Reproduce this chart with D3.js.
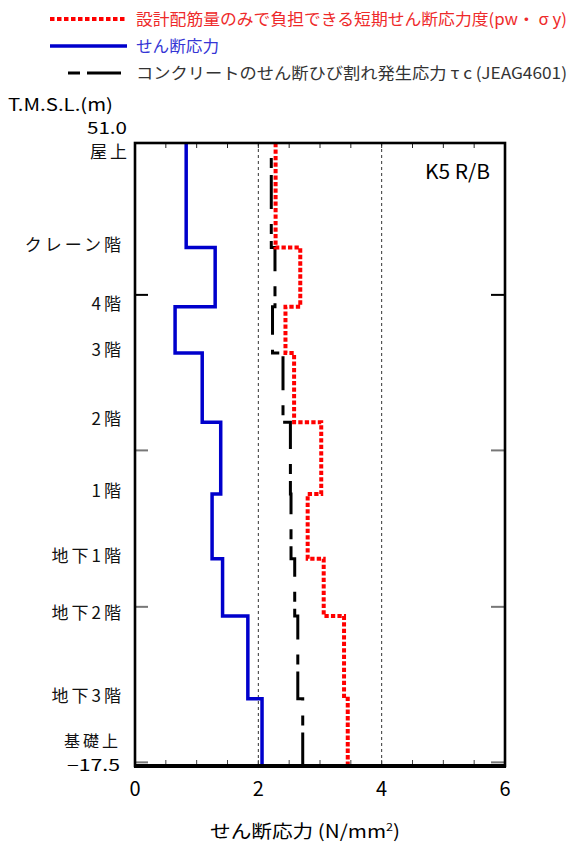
<!DOCTYPE html>
<html>
<head>
<meta charset="utf-8">
<script src="https://cdn.jsdelivr.net/npm/d3@7"></script>
<style>
  body { margin: 0; background: #fff; }
  svg { font-family: "Noto Sans CJK JP", "Noto Sans", sans-serif; }
</style>
</head>
<body>
<div id="chart"></div>
<script>
// floor levels (T.M.S.L. m), top to bottom
var levels = [51.0, 39.5, 33.0, 27.9, 20.3, 12.4, 5.3, -1.0, -10.1, -17.5];
var floorNames = ['屋上', 'クレーン階', '4階', '3階', '2階', '1階', '地下1階', '地下2階', '地下3階', '基礎上'];

// values per storey (between levels[i] and levels[i+1]), N/mm2
var shearStress   = [0.83, 1.30, 0.65, 1.09, 1.39, 1.25, 1.42, 1.83, 2.06];
var rebarCapacity = [2.28, 2.68, 2.44, 2.58, 3.02, 2.80, 3.06, 3.39, 3.45];
var concreteCrack = [2.21, 2.27, 2.23, 2.40, 2.52, 2.53, 2.59, 2.64, 2.72];

var xTicks = [0, 2, 4, 6];
var xGrid = [2, 4];
var yTicks = [34.3, 17.2, 0.0, -17.1];

var margin = {top: 143, right: 65, bottom: 81, left: 135};
var width = 570, height = 847;

var svg = d3.select('#chart').append('svg')
    .attr('width', width)
    .attr('height', height);

var x = d3.scaleLinear().domain([0, 6]).range([margin.left, width - margin.right]);
var y = d3.scaleLinear().domain([-17.5, 51]).range([height - margin.bottom, margin.top]);

// legend
var legend = svg.append('g');
var legendRows = [
    {label: '設計配筋量のみで負担できる短期せん断応力度(pw・ σ y)', color: '#ff0000', text: '#ee2a2a', dash: '4.5 2.5', w: 4, y: 19, len: 431},
    {label: 'せん断応力', color: '#0000cc', text: '#3535d5', dash: null, w: 3.5, y: 46, len: 83},
    {label: 'コンクリートのせん断ひび割れ発生応力 τ c (JEAG4601)', color: '#000', text: '#333', dash: '12 7 34 0', w: 3, y: 73, len: 431}
];
legendRows.forEach(function(d, i) {
    legend.append('line')
        .attr('x1', i == 2 ? 68 : 50).attr('x2', i == 2 ? 121 : 127)
        .attr('y1', d.y).attr('y2', d.y)
        .attr('stroke', d.color)
        .attr('stroke-width', d.w)
        .attr('stroke-dasharray', d.dash);
    legend.append('text')
        .attr('x', 136).attr('y', d.y)
        .attr('dy', '0.35em')
        .attr('font-size', '16px')
        .attr('fill', d.text)
        .attr('textLength', d.len)
        .attr('lengthAdjust', 'spacingAndGlyphs')
        .text(d.label);
});

// axis header
svg.append('text')
    .attr('x', 8).attr('y', 105).attr('dy', '0.35em')
    .attr('font-size', '17px')
    .attr('textLength', 105).attr('lengthAdjust', 'spacingAndGlyphs')
    .text('T.M.S.L.(m)');

// dotted grid lines
svg.append('g').selectAll('line')
    .data(xGrid).join('line')
    .attr('x1', d => x(d)).attr('x2', d => x(d))
    .attr('y1', y(51)).attr('y2', y(-17.5))
    .attr('stroke', '#333').attr('stroke-width', 1)
    .attr('stroke-dasharray', '3 3');

// minor ticks top & bottom
var minor = d3.range(0.5, 6, 0.5);
svg.append('g').selectAll('line')
    .data(minor).join('line')
    .attr('x1', d => x(d)).attr('x2', d => x(d))
    .attr('y1', y(51)).attr('y2', y(51) + 5)
    .attr('stroke', '#222').attr('stroke-width', 1);
svg.append('g').selectAll('line')
    .data(minor).join('line')
    .attr('x1', d => x(d)).attr('x2', d => x(d))
    .attr('y1', y(-17.5)).attr('y2', y(-17.5) - 6)
    .attr('stroke', '#444').attr('stroke-width', 1);

// left / right ticks
svg.append('g').selectAll('line')
    .data(yTicks).join('line')
    .attr('x1', x(0)).attr('x2', x(0) + 13)
    .attr('y1', d => y(d)).attr('y2', d => y(d))
    .attr('stroke', (d, i) => i == 0 ? '#000' : '#777').attr('stroke-width', 2);
svg.append('g').selectAll('line')
    .data(yTicks).join('line')
    .attr('x1', x(6)).attr('x2', x(6) - 14)
    .attr('y1', d => y(d)).attr('y2', d => y(d))
    .attr('stroke', (d, i) => i == 0 ? '#000' : '#777').attr('stroke-width', 2);

// step lines
function steps(vals) {
    var pts = [];
    vals.forEach(function(v, i) {
        pts.push([v, levels[i]]);
        pts.push([v, levels[i + 1]]);
    });
    return pts;
}
var line = d3.line().x(d => x(d[0])).y(d => y(d[1]));

svg.append('path')
    .attr('d', line(steps(concreteCrack)))
    .attr('fill', 'none')
    .attr('stroke', '#000')
    .attr('stroke-width', 3)
    .attr('stroke-dasharray', '10 7 34 15')
    .attr('stroke-dashoffset', 51);

svg.append('path')
    .attr('d', line(steps(rebarCapacity)))
    .attr('fill', 'none')
    .attr('stroke', '#ff0000')
    .attr('stroke-width', 4)
    .attr('stroke-dasharray', '4.3 2.2');

svg.append('path')
    .attr('d', line(steps(shearStress)))
    .attr('fill', 'none')
    .attr('stroke', '#0000cc')
    .attr('stroke-width', 3.5);

// frame
svg.append('rect')
    .attr('x', x(0)).attr('y', y(51))
    .attr('width', x(6) - x(0)).attr('height', y(-17.5) - y(51))
    .attr('fill', 'none').attr('stroke', '#000').attr('stroke-width', 2.6);
svg.append('line')
    .attr('x1', x(0) - 1).attr('x2', x(6) + 1)
    .attr('y1', y(-17.5)).attr('y2', y(-17.5))
    .attr('stroke', '#000').attr('stroke-width', 4);

// x tick labels
svg.append('g').selectAll('text')
    .data(xTicks).join('text')
    .attr('x', d => x(d)).attr('y', 789).attr('dy', '0.35em')
    .attr('text-anchor', 'middle')
    .attr('font-size', '20px')
    .text(d => d);

// x axis title
svg.append('text')
    .attr('x', 305).attr('y', 832).attr('dy', '0.35em')
    .attr('text-anchor', 'middle')
    .attr('font-size', '18px')
    .attr('textLength', 190).attr('lengthAdjust', 'spacingAndGlyphs')
    .html('せん断応力 (N/mm<tspan font-size="11px" dy="-7">2</tspan><tspan dy="7">)</tspan>');

// floor labels
var fmt = d3.format('.1f');
var labels = svg.append('g')
    .attr('font-size', '17px')
    .attr('fill', '#111')
    .attr('text-anchor', 'end');
floorNames.forEach(function(name, i) {
    var yy = y(levels[i]) - 3, xx = 124, fs = 17;
    if (i == 0) { yy = y(levels[0]) + 9; xx = 130; }
    if (i == floorNames.length - 1) { yy = y(levels[i]) - 25; xx = 121; fs = 16; }
    labels.append('text')
        .attr('x', xx).attr('y', yy).attr('dy', '0.35em')
        .attr('font-size', fs + 'px')
        .attr('letter-spacing', '3px')
        .text(name);
});
// end elevations
svg.append('text')
    .attr('x', 127).attr('y', y(levels[0]) - 15).attr('dy', '0.35em')
    .attr('text-anchor', 'end').attr('font-size', '17px')
    .attr('textLength', 40).attr('lengthAdjust', 'spacingAndGlyphs')
    .text(fmt(levels[0]));
svg.append('text')
    .attr('x', 120).attr('y', y(levels[levels.length - 1]) - 1).attr('dy', '0.35em')
    .attr('text-anchor', 'end').attr('font-size', '16px')
    .attr('textLength', 53).attr('lengthAdjust', 'spacingAndGlyphs')
    .text('\u2212' + fmt(-levels[levels.length - 1]));

// building tag
svg.append('text')
    .attr('x', 425).attr('y', 172).attr('dy', '0.35em')
    .attr('font-size', '20px')
    .attr('textLength', 65).attr('lengthAdjust', 'spacingAndGlyphs')
    .text('K5 R/B');
</script>
</body>
</html>
